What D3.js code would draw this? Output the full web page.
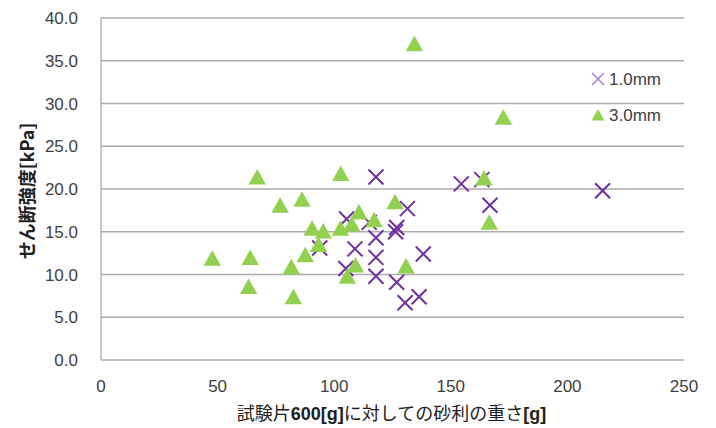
<!DOCTYPE html>
<html><head><meta charset="utf-8">
<script src="https://cdn.jsdelivr.net/npm/d3@7/dist/d3.min.js"></script>
<style>body{margin:0;background:#fff}svg{display:block}</style>
</head><body><svg id="c" width="716" height="428"></svg>
<script>
const seriesNames = ["1.0mm", "3.0mm"];
const cross10 = [
  [93.8,13.1],[105.3,16.5],[105.0,10.7],[108.9,13.0],[115.0,16.1],
  [117.9,21.4],[117.9,14.3],[117.9,12.0],[117.9,9.8],[126.8,15.5],
  [126.3,15.0],[126.8,9.1],[130.4,6.7],[131.4,17.7],[136.4,7.4],
  [138.2,12.4],[154.5,20.6],[163.3,21.1],[166.8,18.1],[215.1,19.8]
];
const tri30 = [
  [47.7,11.9],[63.3,8.6],[64.0,12.0],[67.0,21.4],[76.8,18.1],
  [81.6,10.9],[82.5,7.4],[86.2,18.8],[87.6,12.3],[90.5,15.4],
  [93.3,13.5],[95.3,15.1],[102.8,21.8],[102.7,15.4],[105.6,9.8],
  [107.5,15.9],[109.1,11.1],[110.6,17.3],[117.1,16.4],[126.1,18.5],
  [130.8,11.0],[134.4,37.0],[164.2,21.3],[166.5,16.1],[172.5,28.4]
];
const xTicks = [0,50,100,150,200,250];
const yTicks = [0,5,10,15,20,25,30,35,40];

const svg = d3.select("#c");
const L=101, R=684, T=18, B=360;
const x = d3.scaleLinear().domain([0,250]).range([L,R]);
const y = d3.scaleLinear().domain([0,40]).range([B,T]);
const font = "'Liberation Sans', Arial, sans-serif";
const cjk = "'Noto Sans CJK JP', sans-serif";

// gridlines
svg.append("g").selectAll("line").data(yTicks).join("line")
  .attr("x1",L).attr("x2",R).attr("y1",d=>y(d)).attr("y2",d=>y(d))
  .attr("stroke","#ABABAB").attr("stroke-width",1.3);
svg.append("line").attr("x1",L).attr("x2",L).attr("y1",T).attr("y2",B)
  .attr("stroke","#ABABAB").attr("stroke-width",1.3);

// y tick labels
svg.append("g").selectAll("text").data(yTicks).join("text")
  .attr("x",78).attr("y",d=>y(d)).attr("dy","0.36em")
  .attr("text-anchor","end").attr("font-family",font).attr("font-size",17)
  .attr("fill","#404040").text(d=>d.toFixed(1));
// x tick labels
svg.append("g").selectAll("text").data(xTicks).join("text")
  .attr("x",d=>x(d)).attr("y",392)
  .attr("text-anchor","middle").attr("font-family",font).attr("font-size",17)
  .attr("fill","#404040").text(d=>d);

// axis titles
const xt = svg.append("text").attr("x",(L+R)/2-1).attr("y",420)
  .attr("text-anchor","middle").attr("font-family",cjk).attr("font-size",18).attr("fill","#202020");
[["試験片",400],["600[g]",700],["に対しての砂利の重さ",400],["[g]",700]].forEach(([t,w])=>{
  xt.append("tspan").attr("font-weight",w).attr("font-family", w===700?font:cjk).text(t);
});
svg.append("text").attr("transform",`translate(34,${(T+B)/2+2}) rotate(-90)`)
  .attr("text-anchor","middle").attr("font-family",cjk).attr("font-size",18)
  .attr("font-weight",700).attr("fill","#202020").text("せん断強度[kPa]");

// marks
const triPath = "M0,-8L8.7,7.5L-8.7,7.5Z";
const crossPath = s => `M${-s},${-s}L${s},${s}M${-s},${s}L${s},${-s}`;
svg.append("g").selectAll("path").data(cross10).join("path")
  .attr("transform",d=>`translate(${x(d[0])},${y(d[1])})`)
  .attr("d",crossPath(7.5)).attr("stroke","#7030A0").attr("stroke-width",2).attr("fill","none");
svg.append("g").selectAll("path").data(tri30).join("path")
  .attr("transform",d=>`translate(${x(d[0])},${y(d[1])})`)
  .attr("d",triPath).attr("fill","#92D050");

// legend
const lg = svg.append("g");
lg.append("path").attr("transform","translate(598,79)").attr("d",crossPath(6))
  .attr("stroke","#A77FD0").attr("stroke-width",1.5).attr("fill","none");
lg.append("path").attr("transform","translate(598,115)").attr("d","M0,-6L6.5,5.5L-6.5,5.5Z").attr("fill","#92D050");
lg.selectAll("text").data(seriesNames).join("text")
  .attr("x",609).attr("y",(d,i)=>79+i*36).attr("dy","0.36em")
  .attr("font-family",font).attr("font-size",17).attr("fill","#404040").text(d=>d);
</script></body></html>
